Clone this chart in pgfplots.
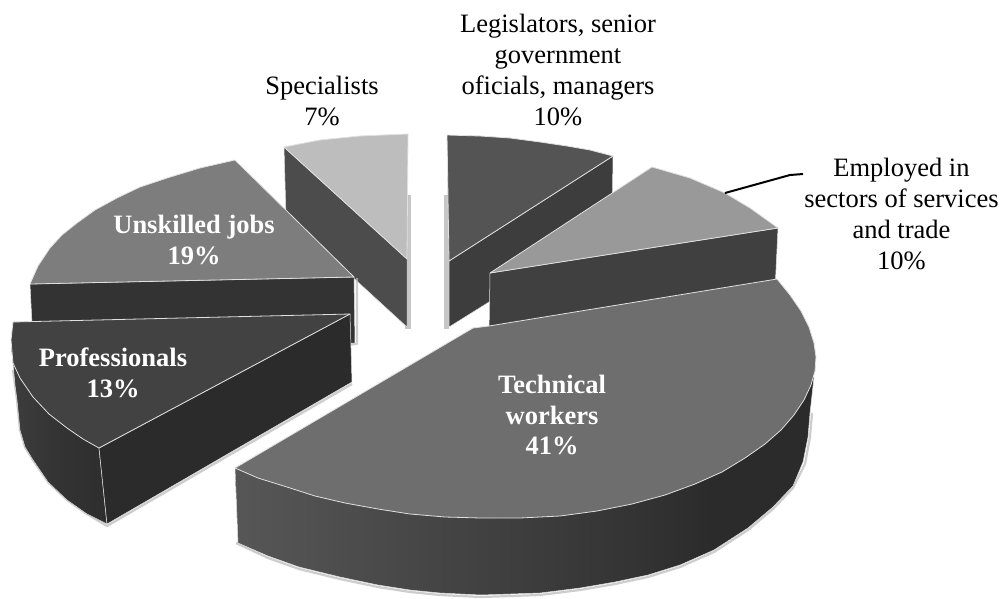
\documentclass[border=0pt]{standalone}
\usepackage{pgfplots}
\pgfplotsset{compat=1.18}
\usepackage{fontspec}
\setmainfont{Liberation Serif}
\definecolor{edge}{gray}{0.88}
\definecolor{halo}{gray}{0.72}
% side walls of the rounded slices darken from left to right
\pgfdeclarehorizontalshading{techside}{100bp}{color(0bp)=(black!66);color(25bp)=(black!66);color(45bp)=(black!74);color(60bp)=(black!80);color(66bp)=(black!83);color(75bp)=(black!83);color(100bp)=(black!83)}
\pgfdeclarehorizontalshading{profside}{100bp}{color(0bp)=(black!76);color(25bp)=(black!76);color(50bp)=(black!80);color(75bp)=(black!82);color(100bp)=(black!82)}
\pgfplotsset{
  wall/.style={draw=edge,line width=0.5pt,line join=round},
  face/.style={draw=edge,line width=0.8pt,line join=round},
  halo line/.style={draw=halo,line width=2.2pt,line join=round,opacity=0.7},
}
\begin{document}
\begin{tikzpicture}
\begin{axis}[
  hide axis,scale only axis,width=1004pt,height=595pt,
  xmin=0,xmax=1004,ymin=0,ymax=595,y dir=reverse,
  no markers,clip=false,
]
% page background
\addplot[fill=white,draw=none] coordinates {(0,0)(1004,0)(1004,595)(0,595)} --cycle;

% Specialists
\addplot[fill=halo,draw=none,opacity=0.8] coordinates {(411,195)(411,329)(405,329)(405,195)} --cycle;
\addplot[wall,fill=black!70] coordinates {(284,147)(407,259)(407,327)(286,216)} --cycle;
\addplot[face,fill=black!26] coordinates {(284,147)(320,140)(360,136)(408,134)(407,259)} --cycle;

% Legislators, senior government officials, managers
\addplot[fill=halo,draw=none,opacity=0.8] coordinates {(444,195)(444,329)(449,329)(449,195)} --cycle;
\addplot[wall,fill=black!76] coordinates {(449,261)(613,156)(612,225)(449,327)} --cycle;
\addplot[face,fill=black!67] coordinates {(447,135)(480,136)(510,138)(540,142)(567,146)(590,150)(613,156)(449,261)} --cycle;

% Unskilled jobs
\addplot[halo line] coordinates {(357,278)(357,344)(345,345)};
\addplot[wall,fill=black!80] coordinates {(30,284)(354,277)(355,343)(33,343)} --cycle;
\addplot[face,fill=black!51] coordinates {(235,160)(200,168)(167,178)(140,187)(117,198)(95,210)(77,223)(62,235)(50,248)(38,266)(30,284)(354,277)} --cycle;

% Employed in sectors of services and trade
\addplot[wall,fill=black!75] coordinates {(490,273)(778,228)(775,290)(489,335)} --cycle;
\addplot[face,fill=black!40] coordinates {(490,273)(652,167)(690,178)(725,193)(750,208)(778,228)} --cycle;
\addplot[black,line width=2pt] coordinates {(725,193)(790,175)(803,174)};

% Professionals
\addplot[halo line] coordinates {(13,370)(17,400)(20,430)(25,447)(33,460)(48,482)(67,500)(87,514)(107,526)(352,384)};
\addplot[wall,shade,shading=profside] coordinates {(11,345)(13,363)(15,385)(17,400)(20,430)(25,447)(33,460)(48,482)(67,500)(87,514)(107,524)(99,448)} --cycle;
\addplot[wall,fill=black!83] coordinates {(99,448)(350,314)(352,382)(107,524)} --cycle;
\addplot[face,fill=black!74] coordinates {(13,322)(11,340)(13,363)(20,378)(33,397)(49,414)(67,428)(83,439)(99,448)(350,314)} --cycle;

% Technical workers
\addplot[halo line] coordinates {(236,543)(268,558)(299,569)(340,579)(378,587)(410,592)(440,595)(481,597)(540,595)(580,590)(615,584)(648,577)(680,567)(714,552)(748,530)(773,509)(793,488)(805,464)(810,437)(812,413)};
\addplot[wall,shade,shading=techside] coordinates {(814,377)(812,395)(810,413)(808,437)(803,462)(793,486)(773,507)(748,528)(714,550)(680,565)(648,575)(615,582)(580,588)(540,593)(481,595)(440,593)(410,590)(378,585)(340,577)(299,567)(268,556)(238,543)(235,468)} --cycle;
\addplot[face,fill=black!57] coordinates {(777,279)(790,295)(801,311)(809,327)(814,343)(816,357)(815,371)(811,385)(804,400)(794,415)(781,430)(765,444)(745,458)(722,472)(695,484)(665,495)(632,504)(597,511)(560,516)(520,518)(481,518)(445,517)(410,514)(378,509)(345,503)(315,496)(287,487)(258,478)(235,468)(473,328)(489,326)} --cycle;

% Labels outside the slices
\tikzset{lab/.style={align=center,inner sep=0pt,font=\fontsize{26.5}{30.8}\selectfont}}
\node[lab] at (558,70) {Legislators, senior\\government\\oficials, managers\\10\%};
\node[lab] at (322,101) {Specialists\\7\%};
\node[lab] at (901.5,214) {Employed in\\sectors of services\\and trade\\10\%};
% Labels on the slices
\tikzset{blab/.style={lab,text=white,font=\fontsize{26.5}{30.8}\selectfont\bfseries}}
\node[blab] at (194,240) {Unskilled jobs\\19\%};
\node[blab] at (113,373) {Professionals\\13\%};
\node[blab] at (552,415) {Technical\\workers\\41\%};
\end{axis}
\end{tikzpicture}
\end{document}
